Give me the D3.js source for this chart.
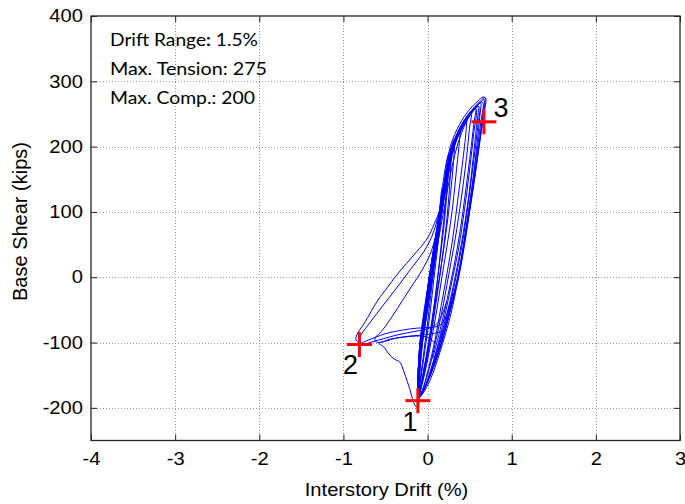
<!DOCTYPE html>
<html><head><meta charset="utf-8">
<script src="https://cdn.jsdelivr.net/npm/d3@7"></script>
<style>body{margin:0;background:#fff}svg{display:block}</style>
</head><body>
<svg id="c" width="685" height="504"></svg>
<script>
// ---- data ----
const xTicks = [-4, -3, -2, -1, 0, 1, 2, 3];
const yTicks = [-200, -100, 0, 100, 200, 300, 400];
const xDomain = [-4, 3];
const yDomain = [-250, 400];
const xLabel = "Interstory Drift (%)";
const yLabel = "Base Shear (kips)";
const notes = ["Drift Range", "Max. Tension: 275", "Max. Comp.: 200"];

// hysteresis cycles, [drift %, base shear kips]
const loop1 = [[-0.12,-187],[-0.11,-140],[-0.09,-100],[-0.035,-50],[0.02,0],[0.085,50],[0.15,100],[0.20,150],[0.27,200],[0.38,234],[0.50,257],[0.60,270],[0.66,276],[0.69,274],[0.67,250],[0.63,215],[0.57,160],[0.50,100],[0.44,50],[0.37,0],[0.27,-50],[0.17,-100],[0.05,-145],[-0.06,-176],[-0.12,-188]];
const loop2 = [[-0.12,-188],[-0.10,-140],[-0.08,-100],[-0.02,-50],[0.04,0],[0.10,50],[0.17,100],[0.23,150],[0.30,200],[0.41,234],[0.53,256],[0.60,265],[0.63,267],[0.62,245],[0.58,195],[0.52,130],[0.46,75],[0.40,25],[0.33,-20],[0.24,-65],[0.14,-110],[0.03,-150],[-0.07,-178],[-0.12,-188]];
const loop3 = [[-0.12,-188],[-0.11,-140],[-0.09,-100],[-0.04,-50],[0.02,0],[0.08,50],[0.14,100],[0.21,150],[0.29,198],[0.40,230],[0.50,250],[0.56,259],[0.58,257],[0.55,222],[0.50,165],[0.44,105],[0.37,45],[0.30,0],[0.22,-50],[0.13,-100],[0.03,-145],[-0.06,-177],[-0.12,-187]];
const loop4 = [[-0.12,-187],[-0.10,-140],[-0.07,-100],[-0.01,-50],[0.05,0],[0.11,50],[0.17,100],[0.23,150],[0.31,200],[0.42,235],[0.49,250],[0.52,252],[0.50,230],[0.46,180],[0.40,120],[0.33,60],[0.26,10],[0.19,-40],[0.11,-90],[0.02,-140],[-0.07,-176],[-0.12,-187]];
const loop5 = [[-0.12,-187],[-0.11,-140],[-0.08,-100],[-0.03,-50],[0.03,0],[0.09,50],[0.16,100],[0.22,150],[0.30,200],[0.40,232],[0.46,243],[0.46,228],[0.42,180],[0.36,120],[0.30,60],[0.23,5],[0.16,-45],[0.09,-95],[0.01,-140],[-0.07,-176],[-0.12,-187]];
const loop6 = [[-0.12,-188],[-0.09,-140],[-0.06,-100],[0.0,-50],[0.06,0],[0.12,50],[0.19,100],[0.26,150],[0.35,200],[0.46,238],[0.56,258],[0.63,268],[0.67,272],[0.66,252],[0.62,212],[0.56,155],[0.49,95],[0.42,40],[0.35,-5],[0.25,-55],[0.15,-100],[0.04,-145],[-0.06,-177],[-0.12,-188]];
const loop7 = [[-0.12,-187],[-0.10,-140],[-0.08,-100],[-0.02,-50],[0.04,0],[0.10,50],[0.16,100],[0.22,150],[0.29,200],[0.40,233],[0.51,253],[0.58,261],[0.60,260],[0.58,230],[0.54,180],[0.49,125],[0.42,65],[0.35,15],[0.27,-35],[0.18,-80],[0.08,-125],[-0.02,-165],[-0.12,-188]];
const loop8 = [[-0.12,-187],[-0.10,-140],[-0.08,-100],[-0.025,-50],[0.03,0],[0.09,50],[0.15,100],[0.21,150],[0.27,195],[0.32,212],[0.32,198],[0.29,150],[0.25,100],[0.20,50],[0.14,0],[0.08,-50],[0.02,-100],[-0.04,-140],[-0.10,-182],[-0.12,-187]];
const loop9 = [[-0.12,-186],[-0.11,-140],[-0.09,-100],[-0.03,-50],[0.03,0],[0.09,50],[0.16,100],[0.22,150],[0.30,200],[0.37,224],[0.39,228],[0.38,210],[0.34,160],[0.30,110],[0.24,55],[0.17,0],[0.11,-50],[0.04,-100],[-0.03,-145],[-0.12,-187]];
const loop10 = [[-0.12,-188],[-0.10,-140],[-0.08,-100],[-0.03,-50],[0.02,0],[0.08,50],[0.14,100],[0.19,150],[0.23,180],[0.25,188],[0.25,172],[0.23,130],[0.20,85],[0.16,40],[0.12,0],[0.07,-50],[0.01,-100],[-0.05,-145],[-0.12,-188]];
const loop11 = [[-0.12,-186],[-0.10,-140],[-0.07,-100],[-0.02,-50],[0.03,0],[0.09,50],[0.14,100],[0.17,135],[0.18,138],[0.17,115],[0.14,70],[0.10,25],[0.06,-20],[0.02,-65],[-0.03,-110],[-0.08,-155],[-0.12,-186]];
const loop12 = [[-0.12,-187],[-0.11,-140],[-0.08,-100],[-0.03,-50],[0.02,0],[0.08,50],[0.11,72],[0.11,60],[0.08,20],[0.04,-25],[0.0,-70],[-0.04,-110],[-0.09,-160],[-0.12,-187]];
const loop13 = [[-0.11,-185],[-0.09,-140],[-0.06,-100],[0.0,-50],[0.05,0],[0.11,50],[0.17,100],[0.21,145],[0.23,165],[0.23,150],[0.21,110],[0.17,60],[0.13,10],[0.09,-35],[0.03,-90],[-0.03,-135],[-0.09,-175],[-0.11,-185]];
const loop14 = [[-0.12,-186],[-0.10,-140],[-0.07,-100],[-0.015,-50],[0.04,0],[0.10,50],[0.16,100],[0.22,150],[0.27,190],[0.29,198],[0.28,180],[0.26,135],[0.23,90],[0.19,45],[0.15,5],[0.10,-40],[0.04,-90],[-0.02,-135],[-0.08,-172],[-0.12,-186]];
const negLoop1 = [[0.30,-25],[0.22,-60],[0.14,-74],[0.02,-77],[-0.13,-78],[-0.30,-81],[-0.49,-86],[-0.62,-92],[-0.72,-97],[-0.80,-101],[-0.85,-96],[-0.84,-88],[-0.75,-70],[-0.59,-35],[-0.48,-16],[-0.37,3],[-0.25,21],[-0.13,39],[0.0,60],[0.08,82],[0.15,105],[0.21,150],[0.28,195],[0.42,235],[0.54,258],[0.63,270],[0.68,275],[0.67,255],[0.63,220],[0.57,165],[0.50,105],[0.43,48],[0.36,-5],[0.27,-60],[0.17,-105],[0.06,-148],[-0.04,-175],[-0.12,-188]];
const negLoop2 = [[0.22,-40],[0.12,-70],[0.0,-79],[-0.15,-83],[-0.35,-88],[-0.52,-94],[-0.66,-99],[-0.78,-103],[-0.82,-98],[-0.78,-86],[-0.70,-72],[-0.57,-50],[-0.45,-30],[-0.33,-10],[-0.18,16],[-0.05,38],[0.05,62],[0.12,90],[0.18,120],[0.24,160],[0.31,200],[0.46,240],[0.57,260],[0.64,268],[0.66,266],[0.63,235],[0.58,185],[0.52,130],[0.45,70],[0.38,15],[0.29,-40],[0.20,-85],[0.09,-130],[-0.02,-166],[-0.11,-186]];
const negLoop3 = [[0.17,-83],[0.08,-86],[-0.02,-88],[-0.20,-90],[-0.37,-93],[-0.50,-98],[-0.58,-101],[-0.55,-104],[-0.51,-108],[-0.47,-116],[-0.40,-125],[-0.33,-130],[-0.28,-145],[-0.24,-160],[-0.21,-172],[-0.18,-186],[-0.15,-196],[-0.13,-199],[-0.11,-190],[-0.09,-140],[-0.07,-100],[-0.01,-50],[0.05,0],[0.11,50],[0.17,100],[0.24,150],[0.32,200],[0.45,242],[0.54,257],[0.57,258],[0.55,235],[0.50,180],[0.44,120],[0.38,65],[0.31,15],[0.23,-35],[0.15,-80],[0.06,-125]];
const negLoop4 = [[0.08,-100],[0.0,-92],[-0.10,-90],[-0.30,-92],[-0.45,-95],[-0.57,-100],[-0.62,-98],[-0.62,-92],[-0.57,-86],[-0.53,-80],[-0.42,-60],[-0.30,-36],[-0.18,-12],[-0.06,12],[0.03,35],[0.09,60],[0.16,100],[0.22,145],[0.30,195],[0.42,230],[0.53,252],[0.60,262],[0.62,260],[0.60,235],[0.55,180],[0.49,120],[0.43,65],[0.36,15],[0.28,-35],[0.19,-80],[0.08,-130],[-0.03,-168],[-0.12,-187]];
const loops = [loop1, loop2, loop3, loop4, loop5, loop6, loop7, loop8, loop9, loop10, loop11, loop12, loop13, loop14, negLoop1, negLoop2, negLoop3, negLoop4];

const markerLabels = ["1", "2", "3"];
const markerDrift = [-0.115, -0.81, 0.67];
const markerShear = [-189, -103, 238];

// ---- layout ----
const svg = d3.select("#c");
const PL = 91, PR = 680, PT = 16, PB = 440.5;
const x = d3.scaleLinear().domain(xDomain).range([PL, PR]);
const y = d3.scaleLinear().domain(yDomain).range([PB, PT]);
const axisFont = "'Liberation Sans', Arial, sans-serif";
const fmt = d => String(d);

// grid
const grid = svg.append("g").attr("stroke", "#9a9a9a").attr("stroke-width", 1).attr("stroke-dasharray", "1,2");
grid.selectAll("line.vx").data(xTicks.filter(d => d > xDomain[0] && d < xDomain[1])).join("line")
  .attr("x1", d => Math.round(x(d)) + 0.5).attr("x2", d => Math.round(x(d)) + 0.5).attr("y1", PT).attr("y2", PB);
grid.selectAll("line.hy").data(yTicks.filter(d => d > yDomain[0] && d < yDomain[1])).join("line")
  .attr("y1", d => Math.round(y(d)) + 0.5).attr("y2", d => Math.round(y(d)) + 0.5).attr("x1", PL).attr("x2", PR);

// data
const lineGen = d3.line().x(d => x(d[0])).y(d => y(d[1])).curve(d3.curveCatmullRom.alpha(0.5));
svg.append("g").selectAll("path").data(loops).join("path")
  .attr("d", lineGen).attr("fill", "none").attr("stroke", "#0000ff").attr("stroke-width", 1);

// axes (box with inward ticks)
const ax = svg.append("g").attr("font-family", axisFont);
const axB = ax.append("g").attr("transform", `translate(0,${PB})`)
  .call(d3.axisBottom(x).tickValues(xTicks).tickSize(-6).tickSizeOuter(0).tickPadding(12).tickFormat(fmt));
ax.append("g").attr("transform", `translate(0,${PT})`)
  .call(d3.axisTop(x).tickValues(xTicks).tickSize(-6).tickSizeOuter(0).tickFormat(""));
const axL = ax.append("g").attr("transform", `translate(${PL},0)`)
  .call(d3.axisLeft(y).tickValues(yTicks).tickSize(-6).tickSizeOuter(0).tickPadding(8).tickFormat(fmt));
ax.append("g").attr("transform", `translate(${PR},0)`)
  .call(d3.axisRight(y).tickValues(yTicks).tickSize(-6).tickSizeOuter(0).tickFormat(""));
ax.selectAll(".domain").remove();
ax.selectAll(".tick line").attr("stroke", "#262626");
ax.selectAll(".tick text").attr("fill", "#000").attr("font-size", 18);
axB.selectAll(".tick text").attr("transform", "scale(1.12,1)").attr("x", 0);
axL.selectAll(".tick text").attr("transform", "scale(1.12,1)").attr("x", -8 / 1.12);
svg.append("rect").attr("x", PL).attr("y", PT).attr("width", PR - PL).attr("height", PB - PT)
  .attr("fill", "none").attr("stroke", "#262626").attr("stroke-width", 1.3);

// axis labels
svg.append("text").attr("transform", `translate(${(PL + PR) / 2 + 1},496) scale(1.12,1)`)
  .attr("text-anchor", "middle").attr("font-family", axisFont).attr("font-size", 18).text(xLabel);
svg.append("text").attr("transform", `translate(27,221.5) rotate(-90)`)
  .attr("text-anchor", "middle").attr("font-family", axisFont).attr("font-size", 20).text(yLabel);

// markers
const mk = svg.append("g");
markerLabels.forEach((lab, i) => {
  const cx = x(markerDrift[i]), cy = y(markerShear[i]);
  mk.append("line").attr("x1", cx - 12.5).attr("x2", cx + 12.5).attr("y1", cy).attr("y2", cy)
    .attr("stroke", "#ff0000").attr("stroke-width", 3);
  mk.append("line").attr("x1", cx).attr("x2", cx).attr("y1", cy - 12.5).attr("y2", cy + 12.5)
    .attr("stroke", "#ff0000").attr("stroke-width", 3);
});
const labelOffset = [[-8, 30], [-9, 30], [17, -5]];
markerLabels.forEach((lab, i) => {
  svg.append("text").attr("x", x(markerDrift[i]) + labelOffset[i][0]).attr("y", y(markerShear[i]) + labelOffset[i][1])
    .attr("text-anchor", "middle").attr("font-family", axisFont).attr("font-size", 27).text(lab);
});

// notes
const nt = svg.append("g").attr("font-family", "Lato, 'Open Sans', sans-serif").attr("font-size", 17.5).attr("fill", "#000");
const n0 = nt.append("text").attr("x", 110).attr("y", 46).attr("textLength", 148).attr("lengthAdjust", "spacingAndGlyphs");
n0.append("tspan").text(notes[0]);
n0.append("tspan").attr("font-weight", "bold").text(":");
n0.append("tspan").text(" 1.5%");
nt.append("text").attr("x", 110).attr("y", 75).attr("textLength", 157).attr("lengthAdjust", "spacingAndGlyphs").text(notes[1]);
nt.append("text").attr("x", 110).attr("y", 104).attr("textLength", 145).attr("lengthAdjust", "spacingAndGlyphs").text(notes[2]);
</script>
</body></html>
